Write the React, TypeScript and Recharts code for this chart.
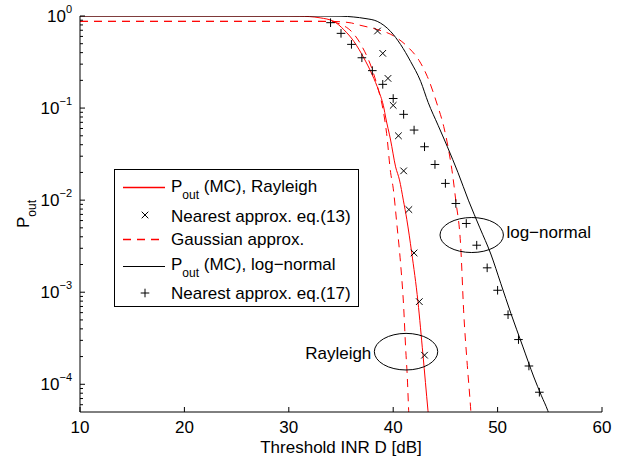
import { ComposedChart, Line, Scatter, XAxis, YAxis, ReferenceDot } from "recharts";

// threshold INR D [dB] and outage probability
const rayleighMcD = [10, 30, 31, 32, 33, 34.3, 35.27, 36.23, 37.19, 37.99, 38.63, 39.11, 39.27, 39.75, 40.23, 40.6, 40.97, 41.3, 41.77, 42.37, 42.85, 43.33, 43.6];
const rayleighMcP = [1, 0.998, 0.995, 0.985, 0.955, 0.875, 0.71, 0.53, 0.35, 0.23, 0.152, 0.1, 0.08, 0.045, 0.023, 0.0166, 0.01, 0.0062, 0.0027, 0.00079, 0.00021, 0.000052, 0.000025];

const rayleighGaussD = [10, 33, 34, 35, 36, 37, 38, 38.5, 39, 39.37, 39.75, 40.0, 40.35, 40.7, 41.0, 41.19, 41.35, 41.48, 41.65];
const rayleighGaussP = [0.875, 0.875, 0.865, 0.81, 0.68, 0.47, 0.26, 0.17, 0.1, 0.053, 0.02, 0.0135, 0.0055, 0.0021, 0.0007, 0.00025, 0.00012, 0.000052, 0.00002];

const lognormMcD = [10, 33, 35, 36.23, 37.3, 38.47, 39.75, 40.71, 41.67, 42.63, 43.35, 44.3, 45.19, 46.2, 47.2, 48.3, 49.35, 50.3, 51.27, 52.4, 53.47, 54.2, 54.8, 55.2];
const lognormMcP = [1, 0.999, 0.995, 0.975, 0.94, 0.875, 0.68, 0.49, 0.32, 0.195, 0.115, 0.065, 0.038, 0.02, 0.01, 0.005, 0.0026, 0.00125, 0.00059, 0.00026, 0.00012, 0.000075, 0.000052, 0.000038];

const lognormGaussD = [10, 34, 35, 36, 36.7, 38.15, 40.13, 41.41, 42.47, 43.27, 44.23, 44.84, 45.25, 45.67, 45.99, 46.47, 46.76, 47.1, 47.43, 47.6];
const lognormGaussP = [0.875, 0.875, 0.865, 0.84, 0.8, 0.73, 0.6, 0.46, 0.33, 0.22, 0.108, 0.063, 0.038, 0.0196, 0.01, 0.0031, 0.00059, 0.00016, 0.000052, 0.000025];

// nearest approximation markers
const approx13D = [38.5, 39, 39.5, 40, 40.5, 41, 41.5, 42, 42.5, 43];
const approx13P = [0.687, 0.393, 0.21, 0.107, 0.05, 0.0208, 0.0079, 0.00267, 0.00079, 0.000207];

const approx17D = [34, 35, 36, 37, 38, 39, 40, 41, 42, 43, 44, 45, 46, 47, 48, 49, 50, 51, 52, 53, 54];
const approx17P = [0.846, 0.648, 0.492, 0.352, 0.255, 0.181, 0.127, 0.0855, 0.0577, 0.038, 0.0244, 0.0152, 0.0092, 0.00558, 0.00324, 0.00184, 0.00105, 0.00057, 0.000306, 0.000158, 0.000082];

const xTicks = [10, 20, 30, 40, 50, 60];
const yTicks = [
  0.00006, 0.00007, 0.00008, 0.00009, 0.0001,
  0.0002, 0.0003, 0.0004, 0.0005, 0.0006, 0.0007, 0.0008, 0.0009, 0.001,
  0.002, 0.003, 0.004, 0.005, 0.006, 0.007, 0.008, 0.009, 0.01,
  0.02, 0.03, 0.04, 0.05, 0.06, 0.07, 0.08, 0.09, 0.1,
  0.2, 0.3, 0.4, 0.5, 0.6, 0.7, 0.8, 0.9, 1,
];

const legendLabels = ["(MC), Rayleigh", "Nearest approx. eq.(13)", "Gaussian approx.", "(MC), log\u2212normal", "Nearest approx. eq.(17)"];

const toPoints = (d: number[], p: number[]) => d.map((x, i) => ({ x, y: p[i] }));

const FONT = '"Liberation Sans", Arial, Helvetica, sans-serif';
const RED = "#ff0000";

const isMajor = (v: number) => Math.abs(Math.log10(v) - Math.round(Math.log10(v))) < 1e-6;

const LeftTick = ({ x, y, payload }: any) => {
  const major = isMajor(payload.value);
  const k = Math.round(Math.log10(payload.value));
  return (
    <g>
      <line x1={x} y1={y} x2={x + (major ? 5 : 3)} y2={y} stroke="#000" />
      {major && (
        <text x={x - 8} y={y + 6} textAnchor="end" fontSize={17} fontFamily={FONT} fill="#000">
          10
          <tspan dy={-9} fontSize={11}>{k < 0 ? `\u2212${-k}` : k}</tspan>
        </text>
      )}
    </g>
  );
};

const RightTick = ({ x, y, payload }: any) => (
  <line x1={x} y1={y} x2={x - (isMajor(payload.value) ? 5 : 3)} y2={y} stroke="#000" />
);

const BottomTick = ({ x, y, payload }: any) => (
  <g>
    <line x1={x} y1={y} x2={x} y2={y - 5} stroke="#000" />
    <text x={x} y={y + 21} textAnchor="middle" fontSize={17} fontFamily={FONT} fill="#000">
      {payload.value}
    </text>
  </g>
);

const TopTick = ({ x, y }: any) => <line x1={x} y1={y} x2={x} y2={y + 5} stroke="#000" />;

const cross = (cx: number, cy: number, s: number) =>
  `M${cx - s},${cy - s}L${cx + s},${cy + s}M${cx - s},${cy + s}L${cx + s},${cy - s}`;
const plus = (cx: number, cy: number, s: number) => `M${cx - s},${cy}L${cx + s},${cy}M${cx},${cy - s}L${cx},${cy + s}`;

const CrossShape = ({ cx, cy }: any) => <path d={cross(cx, cy, 3.3)} stroke="#000" strokeWidth={1} fill="none" />;
const PlusShape = ({ cx, cy }: any) => <path d={plus(cx, cy, 4.3)} stroke="#000" strokeWidth={1} fill="none" />;

const Ring = (text: string, rx: number, ry: number, side: "left" | "right", dy: number) => (p: any) => (
  <g>
    <ellipse cx={p.cx} cy={p.cy} rx={rx} ry={ry} fill="none" stroke="#000" strokeWidth={1} />
    <text
      x={side === "right" ? p.cx + rx + 3 : p.cx - rx - 3}
      y={p.cy + dy}
      textAnchor={side === "right" ? "start" : "end"}
      fontSize={17}
      fontFamily={FONT}
      fill="#000"
    >
      {text}
    </text>
  </g>
);

const LegendBox = () => {
  const rows = [187.5, 215, 239.5, 266.5, 293];
  const bases = [191.5, 221.5, 245, 270, 298.5];
  return (
    <svg width={625} height={457} style={{ position: "absolute", left: 0, top: 0, pointerEvents: "none" }}>
      <rect x={114.5} y={169.5} width={244} height={137} fill="#fff" stroke="#000" />
      <path d={`M123,${rows[0]}H165`} style={{ stroke: RED, strokeWidth: 1.5, fill: "none" }} />
      <path d={cross(145, rows[1], 3.3)} stroke="#000" fill="none" />
      <path d={`M123,${rows[2]}H165`} style={{ stroke: RED, strokeWidth: 1.5, fill: "none", strokeDasharray: "8 6" }} />
      <path d={`M123,${rows[3]}H165`} stroke="#000" strokeWidth={1} fill="none" />
      <path d={plus(145, rows[4], 4.3)} stroke="#000" fill="none" />
      {legendLabels.map((t, i) => (
        <text key={i} x={171} y={bases[i]} fontSize={17} fontFamily={FONT} fill="#000">
          {i === 0 || i === 3 ? (
            <>
              P<tspan dy={7} fontSize={12}>out</tspan>
              <tspan dy={-7}> {t}</tspan>
            </>
          ) : (
            t
          )}
        </text>
      ))}
    </svg>
  );
};

export default function App() {
  return (
    <div style={{ position: "absolute", left: 0, top: 0, width: 625, height: 457, background: "#fff", fontFamily: FONT }}>
      <ComposedChart width={625} height={457} margin={{ top: 16, right: 23, bottom: 0, left: 0 }}>
        <XAxis
          type="number"
          dataKey="x"
          domain={[10, 60]}
          ticks={xTicks}
          interval={0}
          height={45}
          tickSize={0}
          tickMargin={0}
          tickLine={false}
          axisLine={{ stroke: "#000" }}
          tick={<BottomTick />}
          allowDataOverflow
          label={{
            content: () => (
              <text x={341} y={453} textAnchor="middle" fontSize={17} fontFamily={FONT} fill="#000">
                Threshold INR D [dB]
              </text>
            ),
          }}
        />
        <XAxis
          xAxisId="top"
          orientation="top"
          type="number"
          domain={[10, 60]}
          ticks={xTicks}
          interval={0}
          height={0}
          tickSize={0}
          tickMargin={0}
          tickLine={false}
          axisLine={{ stroke: "#000" }}
          tick={<TopTick />}
          allowDataOverflow
        />
        <YAxis
          type="number"
          dataKey="y"
          scale="log"
          domain={[0.00005, 1]}
          ticks={yTicks}
          interval={0}
          width={80}
          tickSize={0}
          tickMargin={0}
          tickLine={false}
          axisLine={{ stroke: "#000" }}
          tick={<LeftTick />}
          allowDataOverflow
          label={{
            content: () => (
              <text
                x={29}
                y={214}
                transform="rotate(-90, 29, 214)"
                textAnchor="middle"
                fontSize={17}
                fontFamily={FONT}
                fill="#000"
              >
                P<tspan dy={7} fontSize={12}>out</tspan>
              </text>
            ),
          }}
        />
        <YAxis
          yAxisId="right"
          orientation="right"
          type="number"
          scale="log"
          domain={[0.00005, 1]}
          ticks={yTicks}
          interval={0}
          width={0}
          tickSize={0}
          tickMargin={0}
          tickLine={false}
          axisLine={{ stroke: "#000" }}
          tick={<RightTick />}
          allowDataOverflow
        />

        <Line data={toPoints(rayleighGaussD, rayleighGaussP)} dataKey="y" type="monotone" stroke={RED} strokeWidth={1} strokeDasharray="8 6" dot={false} activeDot={false} isAnimationActive={false} />
        <Line data={toPoints(lognormGaussD, lognormGaussP)} dataKey="y" type="monotone" stroke={RED} strokeWidth={1} strokeDasharray="8 6" dot={false} activeDot={false} isAnimationActive={false} />
        <Line data={toPoints(rayleighMcD, rayleighMcP)} dataKey="y" type="monotone" stroke={RED} strokeWidth={1} dot={false} activeDot={false} isAnimationActive={false} />
        <Line data={toPoints(lognormMcD, lognormMcP)} dataKey="y" type="monotone" stroke="#000" strokeWidth={1} dot={false} activeDot={false} isAnimationActive={false} />
        <Scatter data={toPoints(approx13D, approx13P)} dataKey="y" shape={<CrossShape />} isAnimationActive={false} />
        <Scatter data={toPoints(approx17D, approx17P)} dataKey="y" shape={<PlusShape />} isAnimationActive={false} />

        <ReferenceDot x={47.52} y={0.00418} r={0} shape={Ring("log\u2212normal", 31.7, 17.5, "right", 3)} />
        <ReferenceDot x={41.23} y={0.000226} r={0} shape={Ring("Rayleigh", 31.7, 18.3, "left", 7)} />
      </ComposedChart>
      <LegendBox />
    </div>
  );
}
